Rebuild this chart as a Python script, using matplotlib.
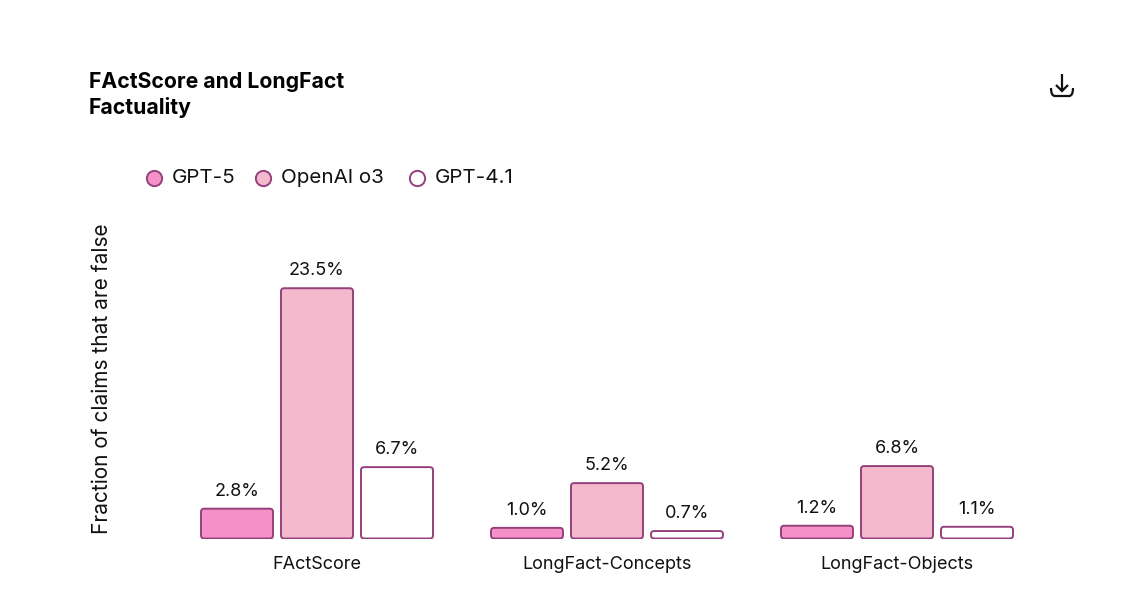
import matplotlib
matplotlib.use('Agg')
import matplotlib.pyplot as plt
from matplotlib.lines import Line2D
from matplotlib.patches import FancyBboxPatch, PathPatch
from matplotlib.path import Path

categories = ['FActScore', 'LongFact-Concepts', 'LongFact-Objects']
models = ['GPT-5', 'OpenAI o3', 'GPT-4.1']
gpt5 = [2.8, 1.0, 1.2]
o3 = [23.5, 5.2, 6.8]
gpt41 = [6.7, 0.7, 1.1]

W, H = 1122, 604
colors = ['#f590c8', '#f4b9cd', '#ffffff']
edge = '#94407c'

plt.rcParams['font.family'] = ['Inter', 'DejaVu Sans']

fig = plt.figure(figsize=(W / 100, H / 100), dpi=100)
# axes placed so one x unit = 290px, one y unit = 10.65px
ax = fig.add_axes([172 / W, 1 - 538.5 / H, 870 / W, 266.25 / H])
ax.set_xlim(-0.5, 2.5)
ax.set_ylim(0, 25)
ax.patch.set_alpha(0)

bar_w = 72 / 290
step = 80 / 290
aspect = (25 / 266.25) / (3 / 870)
for s, vals in enumerate([gpt5, o3, gpt41]):
    for i, v in enumerate(vals):
        x = i + (s - 1) * step
        box = FancyBboxPatch((x - bar_w / 2, 0), bar_w, v,
                             boxstyle='round,pad=0,rounding_size=0.011',
                             mutation_aspect=aspect, fc=colors[s], ec=edge, lw=1.4)
        ax.add_patch(box)
        ax.annotate(f'{v}%', (x, v), xytext=(0, 9), textcoords='offset pixels',
                    ha='center', va='bottom', fontsize=13, color='#111111')

for sp in ax.spines.values():
    sp.set_visible(False)
ax.set_yticks([])
ax.set_xticks(range(len(categories)))
ax.set_xticklabels(categories, fontsize=13, color='#111111')
ax.tick_params(axis='x', length=0, pad=12.5)


def px(x, y):
    return (x / W, 1 - y / H)


# legend drawn by hand to hit the tight spacing
legend_x = [154, 263, 417]
for name, c, lx in zip(models, colors, legend_x):
    fx, fy = px(lx, 177.5)
    fig.add_artist(Line2D([fx], [fy], ls='', marker='o', ms=11, mfc=c, mec=edge, mew=1.4,
                          transform=fig.transFigure))
    tx, ty = px(lx + 18, 178)
    fig.text(tx, ty, name, fontsize=14.8, va='center', color='#111111')

fig.text(89 / W, 1 - 82 / H, 'FActScore and LongFact', fontsize=15.25, fontweight='bold', va='center', color='#000000')
fig.text(89 / W, 1 - 108 / H, 'Factuality', fontsize=15.25, fontweight='bold', va='center', color='#000000')
fig.text(102 / W, 1 - 379 / H, 'Fraction of claims that are false', rotation=90, fontsize=15,
         ha='center', va='center', color='#111111')

# download icon
arrow = Path([px(1062, 74), px(1062, 91), px(1056, 85), px(1062, 91), px(1068, 85)],
             [Path.MOVETO, Path.LINETO, Path.MOVETO, Path.LINETO, Path.LINETO])
tray = Path([px(1051, 88), px(1051, 96), px(1055, 96), px(1069, 96), px(1073, 96), px(1073, 88)],
            [Path.MOVETO, Path.CURVE3, Path.CURVE3, Path.LINETO, Path.CURVE3, Path.CURVE3])
for p in [arrow, tray]:
    fig.add_artist(PathPatch(p, fc='none', ec='#111111', lw=1.6, transform=fig.transFigure))

fig.savefig('out.png', dpi=100, facecolor='white')
